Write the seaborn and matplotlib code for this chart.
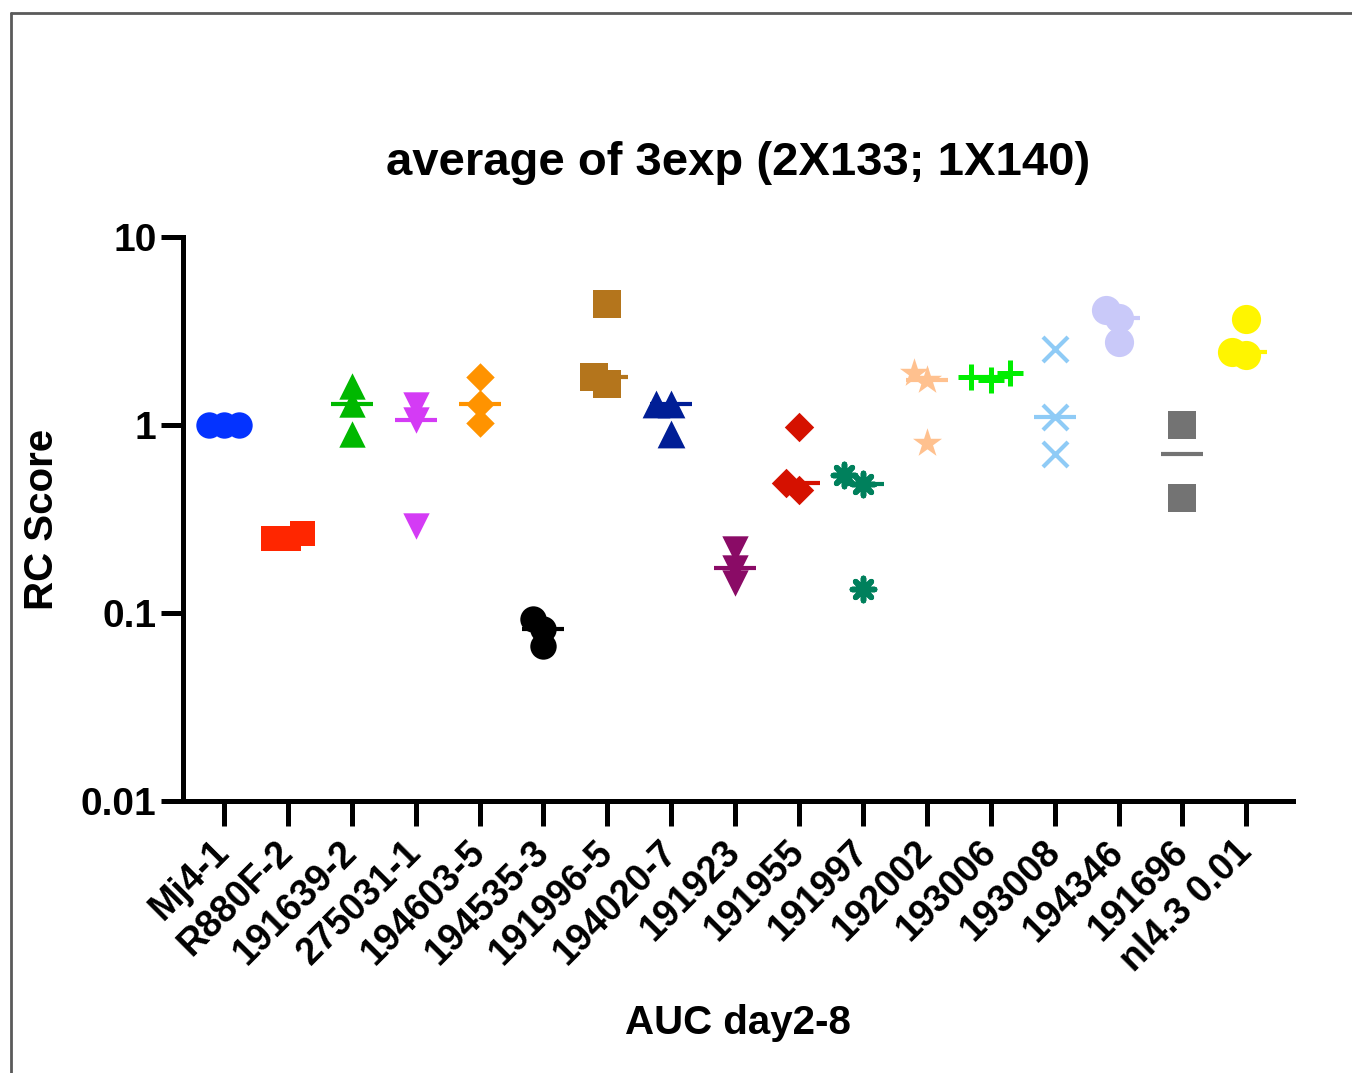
import numpy as np
import pandas as pd
import matplotlib
matplotlib.use("Agg")
import matplotlib.pyplot as plt
from matplotlib.lines import Line2D
import seaborn as sns

# ---------------- data ----------------
categories = ["Mj4-1", "R880F-2", "191639-2", "275031-1", "194603-5", "194535-3",
              "191996-5", "194020-7", "191923", "191955", "191997", "192002",
              "193006", "193008", "194346", "191696", "nl4.3 0.01"]

mj4_1 = [1.0, 1.0, 1.0]
r880f_2 = [0.25, 0.25, 0.265]
s191639_2 = [1.62, 1.30, 0.90]
s275031_1 = [1.27, 1.06, 0.29]
s194603_5 = [1.79, 1.29, 1.02]
s194535_3 = [0.093, 0.082, 0.067]
s191996_5 = [4.4, 1.66, 1.79]
s194020_7 = [1.30, 1.30, 0.90]
s191923 = [0.22, 0.174, 0.145]
s191955 = [0.97, 0.49, 0.45]
s191997 = [0.545, 0.488, 0.134]
s192002 = [1.9, 1.73, 0.80]
s193006 = [1.73, 1.88, 1.79]
s193008 = [2.53, 1.10, 0.705]
s194346 = [4.08, 3.70, 2.75]
s191696 = [1.0, 0.41]
nl4_3 = [3.65, 2.35, 2.44]

series = [mj4_1, r880f_2, s191639_2, s275031_1, s194603_5, s194535_3, s191996_5,
          s194020_7, s191923, s191955, s191997, s192002, s193006, s193008,
          s194346, s191696, nl4_3]

y_ticks = [0.01, 0.1, 1, 10]
y_tick_labels = ["0.01", "0.1", "1", "10"]
title = "average of 3exp (2X133; 1X140)"
x_label = "AUC day2-8"
y_label = "RC Score"

# ---------------- styles ----------------
colors = ["#0433FF", "#FF2600", "#00B800", "#D43BF5", "#FF9300", "#000000",
          "#B4751C", "#001E96", "#8A0B66", "#D51100", "#00805C", "#FFC18F",
          "#00EE00", "#8FCBF6", "#C9C9F9", "#737373", "#FFF500"]
markers = ["o", "s", "^", "v", "D", "o", "s", "^", "v", "D", (8, 2, 0), "*",
           "+", "x", "o", "s", "o"]
msizes = [19, 18, 19, 19, 14.5, 19, 20, 20, 19, 15, 16, 22, 19, 18, 21, 20, 21]
mlw = [0, 0, 0, 0, 0, 0, 0, 0, 0, 0, 4.0, 0, 3.6, 3.0, 0, 0, 0]
swarm_size = 10.5   # spacing used to lay overlapping points side by side

records = [(c, v) for c, vals in zip(categories, series) for v in vals]
df = pd.DataFrame(records, columns=["strain", "score"])

sns.set_theme(style="ticks")
plt.rcParams["font.family"] = ["Liberation Sans", "DejaVu Sans"]
plt.rcParams["font.weight"] = "bold"
plt.rcParams["axes.labelweight"] = "bold"
plt.rcParams["axes.titleweight"] = "bold"
for k in ["text.color", "axes.labelcolor", "xtick.color", "ytick.color", "axes.edgecolor"]:
    plt.rcParams[k] = "black"

fig = plt.figure(figsize=(13.52, 10.73), dpi=100)
ax = fig.add_axes([183 / 1352, 1 - 801 / 1073, (1293 - 183) / 1352, (801 - 237) / 1073])

# median lines (computed on the raw values)
sns.pointplot(data=df, x="strain", y="score", hue="strain", order=categories,
              hue_order=categories, palette=dict(zip(categories, colors)),
              estimator="median", errorbar=None, markers="_", linestyles="none",
              markersize=30, markeredgewidth=3.0, legend=False, ax=ax, zorder=2)

ax.set_yscale("log")
ax.set_ylim(0.01, 10)
ax.set_xlim(-0.64, len(categories) - 1 + 0.73)

# points: beeswarm layout with a small spacing, then drawn at full size
for cat, col, m, s, lw in zip(categories, colors, markers, msizes, mlw):
    sub = df[df["strain"] == cat]
    n_before = len(ax.collections)
    sns.swarmplot(data=sub, x="strain", y="score", order=categories, color=col,
                  marker=m, size=swarm_size, linewidth=lw, edgecolor=col,
                  ax=ax, zorder=3)
    for coll in ax.collections[n_before:]:
        coll.__dict__.pop("draw", None)
        coll.set_sizes([s ** 2])

ax.set_yscale("log")
ax.set_ylim(0.01, 10)
ax.set_yticks(y_ticks)
ax.set_yticklabels(y_tick_labels)
ax.yaxis.set_minor_locator(matplotlib.ticker.NullLocator())
ax.set_xlim(-0.64, len(categories) - 1 + 0.73)
ax.set_xticks(range(len(categories)))
ax.set_xticklabels(categories, rotation=45, ha="right", va="center",
                   rotation_mode="anchor")

for side in ["top", "right"]:
    ax.spines[side].set_visible(False)
for side in ["left", "bottom"]:
    ax.spines[side].set_linewidth(3.6)
    ax.spines[side].set_color("black")
ax.tick_params(axis="y", length=16, width=3.6, pad=3, labelsize=28, color="black")
ax.tick_params(axis="x", length=18, width=3.6, pad=15, labelsize=27, color="black")

ax.set_xlabel(x_label, fontsize=29, fontweight="bold")
ax.set_ylabel(y_label, fontsize=29, fontweight="bold")
ax.xaxis.set_label_coords(0.5, -0.36)
ax.yaxis.set_label_coords(-0.11, 0.5)
ax.set_title(title, fontsize=34, fontweight="bold", y=1.11, pad=0)

# outer frame (top and left only, as in the reference)
fig.add_artist(Line2D([11 / 1352, 1], [1 - 13 / 1073, 1 - 13 / 1073],
                      transform=fig.transFigure, color="#5a5a5a", lw=2))
fig.add_artist(Line2D([11 / 1352, 11 / 1352], [0, 1 - 13 / 1073],
                      transform=fig.transFigure, color="#5a5a5a", lw=2))

fig.savefig("out.png", dpi=100, facecolor="white")
